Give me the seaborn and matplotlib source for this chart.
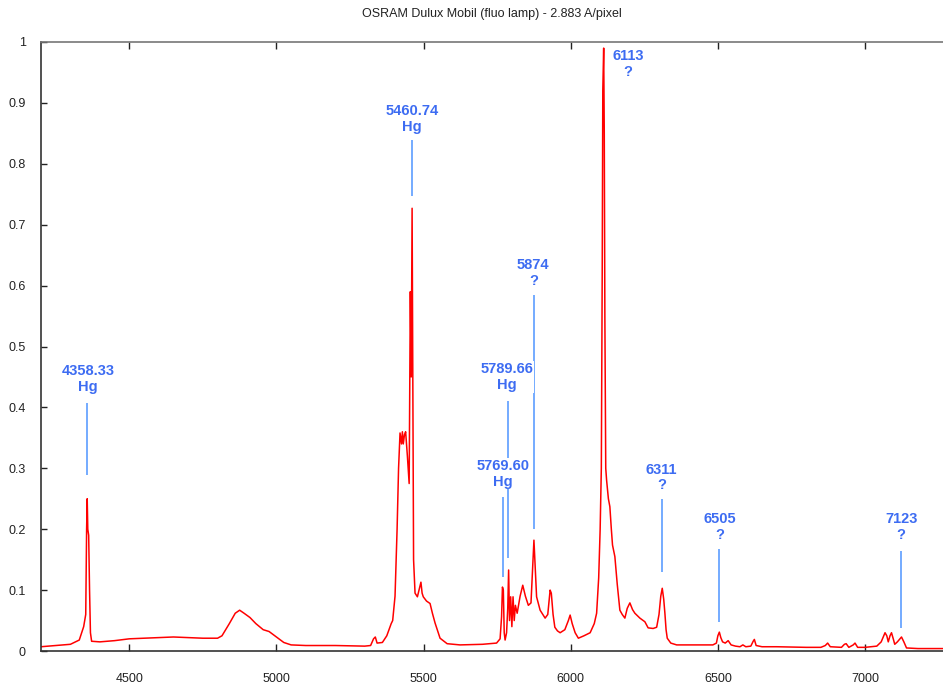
import numpy as np
import seaborn as sns
import matplotlib.pyplot as plt

# spectrum (wavelength in A, normalised intensity)
wavelength = [4200, 4250, 4300, 4330, 4345, 4352, 4355, 4357, 4359, 4362, 4365, 4368, 4372,
              4400, 4450, 4500, 4550, 4600, 4650, 4700, 4750, 4800, 4815, 4840, 4860, 4875,
              4890, 4910, 4930, 4955, 4975, 5000, 5025, 5050, 5100, 5200, 5300, 5320, 5330,
              5336, 5342, 5360, 5375, 5390, 5395, 5403, 5410, 5415, 5420, 5425, 5428, 5431,
              5435, 5439, 5445, 5451, 5455, 5458, 5461, 5463, 5466, 5471, 5479, 5487, 5491,
              5495, 5499, 5510, 5522, 5530, 5539, 5556, 5580, 5624, 5700, 5748, 5760, 5765,
              5768, 5771, 5774, 5777, 5782, 5786, 5789, 5792, 5796, 5800, 5804, 5808, 5812,
              5818, 5828, 5837, 5846, 5856, 5865, 5871, 5875, 5880, 5884, 5896, 5905, 5913,
              5922, 5930, 5934, 5940, 5946, 5955, 5964, 5980, 5992, 5998, 6005, 6015, 6026,
              6045, 6066, 6080, 6088, 6095, 6100, 6104, 6107, 6109, 6112, 6114, 6116, 6119,
              6122, 6128, 6133, 6138, 6142, 6150, 6158, 6167, 6175, 6184, 6192, 6201, 6210,
              6218, 6235, 6252, 6263, 6280, 6292, 6300, 6306, 6311, 6316, 6320, 6324, 6328,
              6340, 6360, 6420, 6483, 6495, 6500, 6505, 6510, 6516, 6525, 6535, 6545, 6560,
              6575, 6585, 6595, 6612, 6620, 6624, 6630, 6650, 6700, 6800, 6850, 6865, 6873,
              6882, 6920, 6930, 6936, 6945, 6960, 6966, 6975, 7000, 7040, 7055, 7068, 7074,
              7079, 7085, 7090, 7096, 7101, 7110, 7124, 7132, 7141, 7180, 7265]
intensity = [0.007, 0.009, 0.011, 0.018, 0.04, 0.06, 0.2, 0.25, 0.2, 0.19, 0.1, 0.03, 0.016,
             0.015, 0.017, 0.02, 0.021, 0.022, 0.023, 0.022, 0.021, 0.021, 0.025, 0.045, 0.062, 0.067,
             0.062, 0.055, 0.045, 0.035, 0.032, 0.023, 0.014, 0.01, 0.009, 0.009, 0.008, 0.009, 0.02,
             0.023, 0.013, 0.014, 0.025, 0.045, 0.05, 0.09, 0.2, 0.3, 0.358, 0.34, 0.36, 0.34,
             0.355, 0.36, 0.32, 0.275, 0.59, 0.45, 0.727, 0.5, 0.15, 0.095, 0.089, 0.105, 0.113,
             0.095, 0.089, 0.082, 0.078, 0.062, 0.046, 0.021, 0.012, 0.01, 0.011, 0.013, 0.02, 0.056,
             0.105, 0.1, 0.03, 0.018, 0.03, 0.07, 0.133, 0.05, 0.089, 0.04, 0.089, 0.05, 0.075,
             0.062, 0.09, 0.108, 0.09, 0.075, 0.079, 0.14, 0.182, 0.13, 0.089, 0.067, 0.06, 0.054,
             0.06, 0.1, 0.095, 0.06, 0.039, 0.033, 0.03, 0.035, 0.05, 0.059, 0.045, 0.03, 0.021,
             0.025, 0.03, 0.045, 0.062, 0.12, 0.2, 0.3, 0.62, 0.92, 0.99, 0.85, 0.55, 0.3,
             0.28, 0.25, 0.237, 0.2, 0.174, 0.155, 0.11, 0.067, 0.06, 0.054, 0.07, 0.079, 0.068,
             0.062, 0.054, 0.048, 0.038, 0.037, 0.039, 0.06, 0.09, 0.103, 0.085, 0.062, 0.035, 0.021,
             0.013, 0.01, 0.01, 0.01, 0.013, 0.025, 0.031, 0.022, 0.015, 0.013, 0.017, 0.01, 0.008,
             0.007, 0.01, 0.007, 0.008, 0.016, 0.019, 0.009, 0.007, 0.007, 0.006, 0.006, 0.009, 0.013,
             0.007, 0.006, 0.011, 0.012, 0.006, 0.01, 0.013, 0.006, 0.006, 0.008, 0.015, 0.03, 0.025,
             0.015, 0.025, 0.03, 0.02, 0.011, 0.015, 0.023, 0.015, 0.005, 0.004, 0.004]

# line identifications
line_text = ["4358.33\nHg", "5460.74\nHg", "5789.66\nHg", "5769.60\nHg", "5874\n?",
             "6113\n?", "6311\n?", "6505\n?", "7123\n?"]
line_pos = [4358, 5461, 5788, 5769.6, 5874, 6113, 6311, 6505, 7123]
text_x = [4360, 5461, 5784, 5769.6, 5873, 6195, 6309, 6505, 7123]
text_y = [0.447, 0.874, 0.450, 0.291, 0.621, 0.964, 0.285, 0.204, 0.204]
marker_top = [0.407, 0.839, 0.41, 0.253, 0.585, np.nan, 0.25, 0.167, 0.165]
marker_bottom = [0.289, 0.747, 0.153, 0.122, 0.2, np.nan, 0.13, 0.048, 0.038]

sns.set_style("white")
plt.rcParams['font.family'] = ['Liberation Sans', 'DejaVu Sans']

fig = plt.figure(figsize=(9.43, 6.88), dpi=100)
ax = fig.add_axes([41 / 943, 1 - 651 / 688, 1 - 41 / 943, (651 - 42) / 688])

sns.lineplot(x=wavelength, y=intensity, color="#ff0000", lw=1.1, ax=ax, zorder=2)
ax.vlines(line_pos, marker_bottom, marker_top, color="#5c9dff", lw=1.2, zorder=1)
for tx, ty, t in zip(text_x, text_y, line_text):
    ax.text(tx, ty, t, ha="center", va="center", fontsize=10.5, fontweight="bold",
            color="#3d6cf2", linespacing=1.15, zorder=3,
            bbox=dict(facecolor="white", edgecolor="none", pad=0.5))

ax.set_xlim(4200, 7265)
ax.set_ylim(0, 1)
ax.set_xticks([4500, 5000, 5500, 6000, 6500, 7000])
ax.set_yticks(np.arange(0, 1.01, 0.1))
ax.set_yticklabels(["0", "0.1", "0.2", "0.3", "0.4", "0.5", "0.6", "0.7", "0.8", "0.9", "1"])
ax.tick_params(axis="x", direction="in", length=5, width=1, top=True, bottom=True,
               pad=16, labelsize=9, colors="#222222")
ax.tick_params(axis="y", direction="in", length=4, width=1, left=True, right=False,
               pad=11, labelsize=9, colors="#222222")
for side in ["left", "bottom"]:
    ax.spines[side].set_color("#333333")
ax.spines["top"].set_color("#777777")
ax.spines["right"].set_visible(False)
for side in ["left", "bottom", "top"]:
    ax.spines[side].set_linewidth(1.2)
ax.set_xlabel("")
ax.set_ylabel("")
ax.set_title("OSRAM Dulux Mobil (fluo lamp) - 2.883 A/pixel", fontsize=9, pad=18,
             color="#222222")

fig.savefig("out.png", dpi=100)
